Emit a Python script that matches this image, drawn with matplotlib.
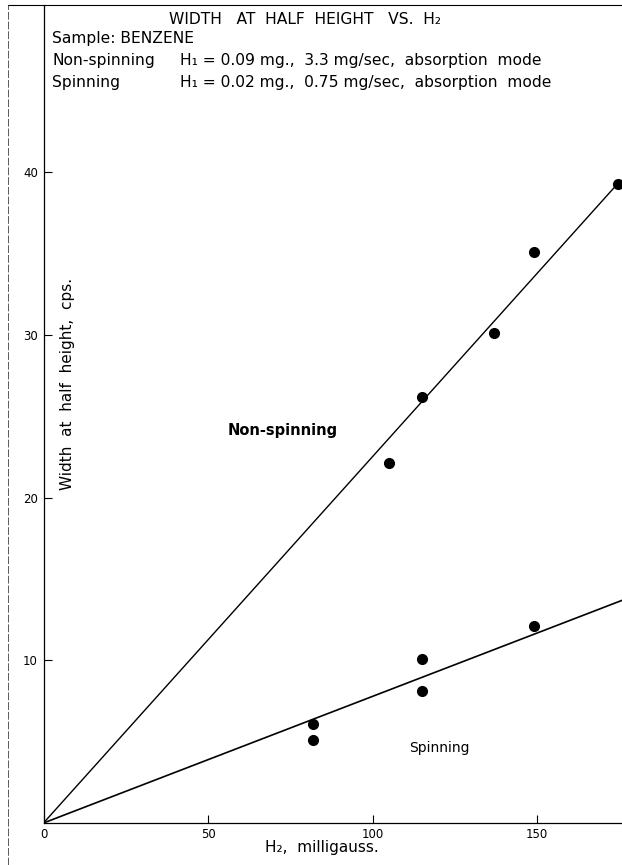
import matplotlib.pyplot as plt
from matplotlib.lines import Line2D

nonspin_h2 = [105, 115, 137, 149, 174.5]
nonspin_width = [22.1, 26.2, 30.1, 35.1, 39.3]
spin_h2 = [82, 82, 115, 115, 149]
spin_width = [6.1, 5.1, 10.1, 8.1, 12.1]

# hand-drawn straight lines through the origin
nonspin_fit_x = [0, 174.5]
nonspin_fit_y = [0, 39.3]
spin_fit_x = [0, 176]
spin_fit_y = [0, 13.7]

xticks = [0, 50, 100, 150]
yticks = [10, 20, 30, 40]

plt.rcParams['font.family'] = ['DejaVu Sans']

fig = plt.figure(figsize=(6.22, 8.65), dpi=100)
ax = fig.add_axes([43.5 / 622, 42 / 865, 1 - 43.5 / 622, 818 / 865])

ax.plot(nonspin_fit_x, nonspin_fit_y, color='black', lw=1.0)
ax.plot(spin_fit_x, spin_fit_y, color='black', lw=1.2)
ax.plot(nonspin_h2, nonspin_width, 'o', color='black', ms=7)
ax.plot(spin_h2, spin_width, 'o', color='black', ms=7)

ax.set_xlim(0, 175.8)
ax.set_ylim(0, 50.28)
ax.set_xticks(xticks)
ax.set_yticks(yticks)
ax.tick_params(direction='in', length=6, width=0.8, labelsize=8.5)
ax.tick_params(axis='y', pad=4)
for side in ['top', 'right']:
    ax.spines[side].set_visible(False)
for side in ['left', 'bottom']:
    ax.spines[side].set_linewidth(0.9)

ax.set_xlabel('H₂,  milligauss.', fontsize=11, labelpad=2)
ax.xaxis.set_label_coords((322 - 43.5) / 578.5, -17 / 818)
ax.text(7.2, 27.0, 'Width  at  half  height,  cps.', rotation=90,
        ha='center', va='center', fontsize=11)

ax.text(72.6, 24.1, 'Non-spinning', ha='center', va='center',
        fontsize=10.5, fontweight='bold')
ax.text(120.4, 4.6, 'Spinning', ha='center', va='center', fontsize=10)

# header block
fs = 11.2
fig.text(305 / 622, 1 - 19 / 865, 'WIDTH   AT  HALF  HEIGHT   VS.  H₂',
         ha='center', va='center', fontsize=fs)
fig.text(52 / 622, 1 - 38 / 865, 'Sample: BENZENE',
         ha='left', va='center', fontsize=fs)
fig.text(52 / 622, 1 - 60 / 865, 'Non-spinning',
         ha='left', va='center', fontsize=fs)
fig.text(180 / 622, 1 - 60 / 865, 'H₁ = 0.09 mg.,  3.3 mg/sec,  absorption  mode',
         ha='left', va='center', fontsize=fs)
fig.text(52 / 622, 1 - 83 / 865, 'Spinning',
         ha='left', va='center', fontsize=fs)
fig.text(180 / 622, 1 - 83 / 865, 'H₁ = 0.02 mg.,  0.75 mg/sec,  absorption  mode',
         ha='left', va='center', fontsize=fs)

# page border from the scan
fig.add_artist(Line2D([8 / 622, 1], [1 - 5 / 865, 1 - 5 / 865],
                      color='black', lw=0.8))
fig.add_artist(Line2D([8 / 622, 8 / 622], [0, 1 - 5 / 865],
                      color='0.35', lw=0.7, ls=(0, (8, 2))))

fig.savefig('out.png', dpi=100)
